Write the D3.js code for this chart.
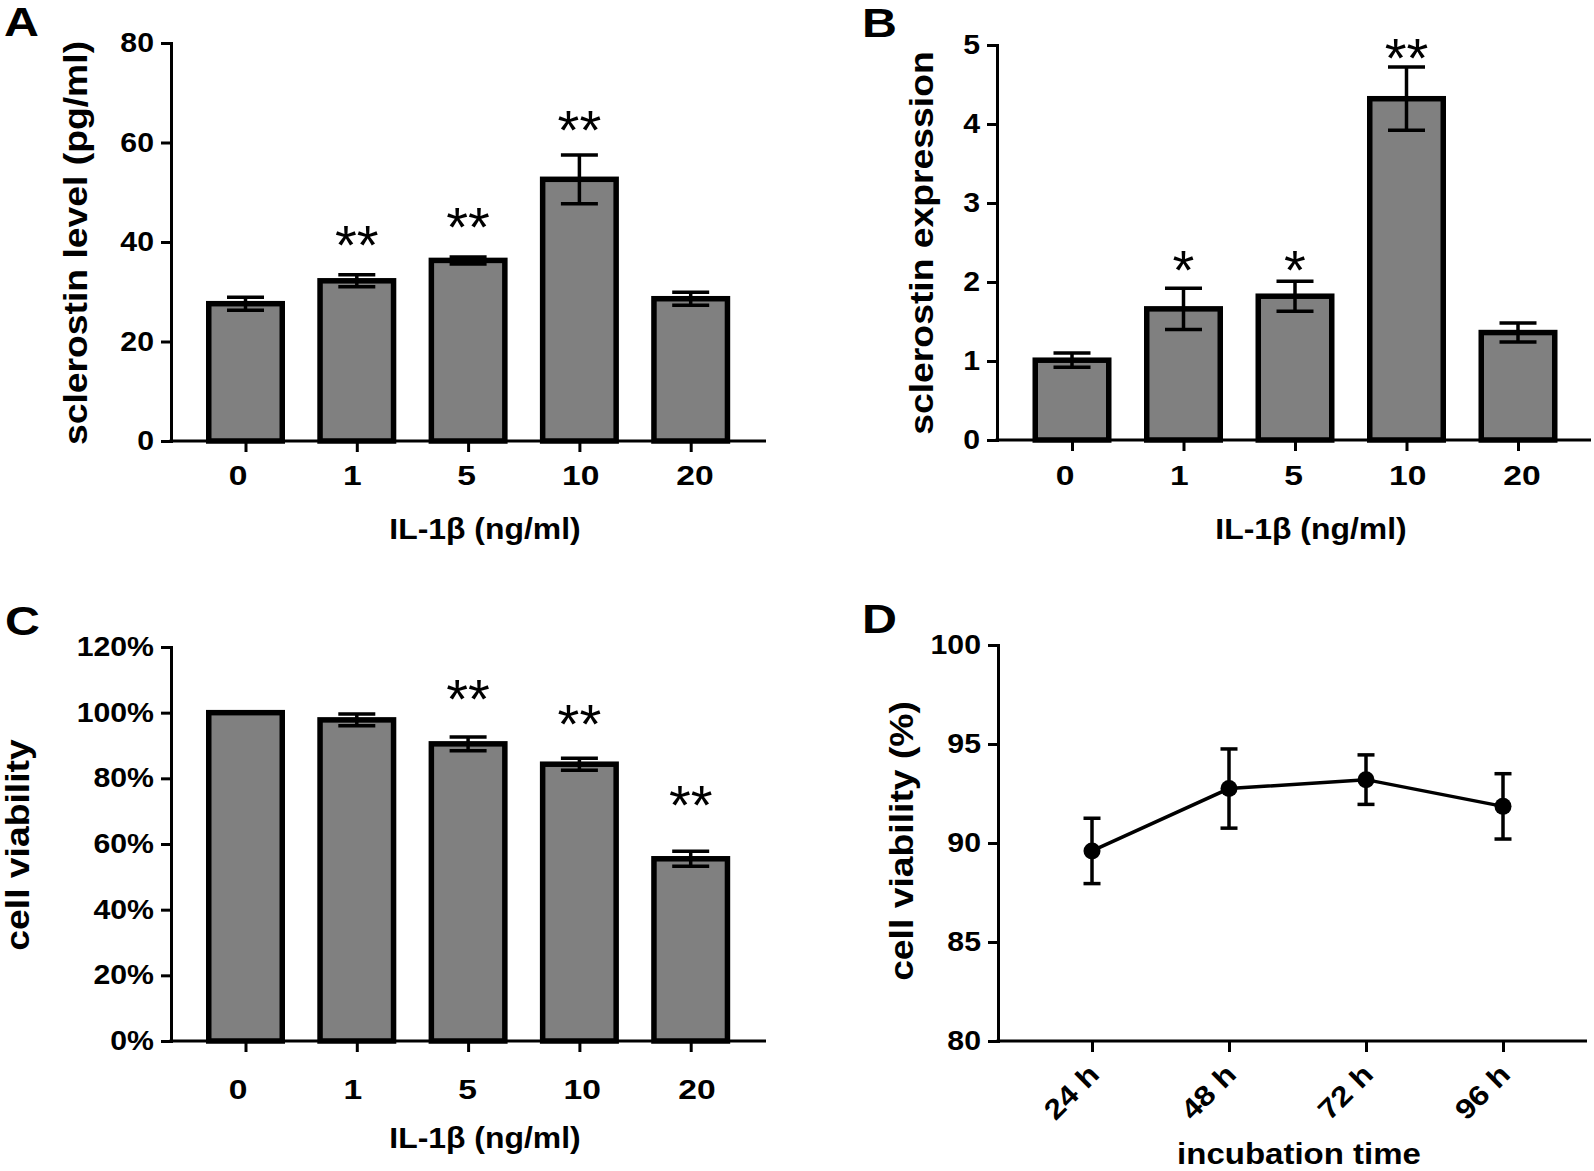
<!DOCTYPE html>
<html><head><meta charset="utf-8">
<script src="https://cdn.jsdelivr.net/npm/d3@7"></script>
<style>
body{margin:0;background:#fff}
svg{display:block}
</style>
</head><body>
<svg id="fig" width="1594" height="1171"></svg>
<script>
// ---------------- data ----------------
const doseCategories = ["0", "1", "5", "10", "20"];

// Panel A: sclerostin level (pg/ml)
const sclerostinLevel    = [27.6, 32.2, 36.3, 52.6, 28.6];
const sclerostinLevelErr = [1.3, 1.2, 0.7, 4.9, 1.3];
const sigA     = ["", "**", "**", "**", ""];
const sigAPosY = [null, 41.0, 44.5, 64.0, null];
const ticksA   = [0, 20, 40, 60, 80];

// Panel B: sclerostin expression
const sclerostinExpr    = [1.01, 1.66, 1.82, 4.32, 1.36];
const sclerostinExprErr = [0.09, 0.26, 0.19, 0.40, 0.12];
const sigB     = ["", "*", "*", "**", ""];
const sigBPosY = [null, 2.25, 2.25, 4.94, null];
const ticksB   = [0, 1, 2, 3, 4, 5];

// Panel C: cell viability (%)
const cellViability    = [100, 97.8, 90.5, 84.3, 55.5];
const cellViabilityErr = [0, 1.8, 2.1, 1.8, 2.3];
const sigC     = ["", "", "**", "**", "**"];
const sigCPosY = [null, null, 106.6, 99.0, 74.3];
const ticksC   = [0, 20, 40, 60, 80, 100, 120];

// Panel D: cell viability over incubation time
const timeCategories   = ["24 h", "48 h", "72 h", "96 h"];
const viabilityTime    = [89.6, 92.75, 93.2, 91.85];
const viabilityTimeErr = [1.65, 2.0, 1.25, 1.65];
const ticksD = [80, 85, 90, 95, 100];

// ---------------- drawing ----------------
const FONT = '"Liberation Sans", Arial, Helvetica, sans-serif';
const svg = d3.select("#fig");

function widen(sel, k) {
  sel.each(function () {
    const w = this.getComputedTextLength();
    if (w > 0) {
      this.setAttribute("textLength", w * k);
      this.setAttribute("lengthAdjust", "spacingAndGlyphs");
    }
  });
}

function addText(g, str, x, y, size, opts = {}) {
  const t = g.append("text")
    .attr("x", x).attr("y", y)
    .attr("font-family", FONT)
    .attr("font-size", size)
    .attr("font-weight", opts.weight || "bold")
    .attr("text-anchor", opts.anchor || "start")
    .attr("fill", "#000")
    .text(str);
  if (opts.transform) t.attr("transform", opts.transform);
  if (opts.widen) widen(t, opts.widen);
  return t;
}

function yAxis(g, y, ticks, fmt, axisX) {
  const ax = g.append("g")
    .attr("transform", `translate(${axisX},0)`)
    .call(d3.axisLeft(y).tickValues(ticks).tickFormat(fmt)
      .tickSize(10).tickSizeOuter(0).tickPadding(7));
  ax.attr("font-family", FONT).attr("font-size", 27);
  ax.select(".domain").attr("stroke", "#000").attr("stroke-width", 3)
    .attr("stroke-linecap", "square");
  ax.selectAll(".tick line").attr("stroke", "#000").attr("stroke-width", 3);
  ax.selectAll(".tick text").attr("font-weight", "bold").attr("fill", "#000");
  widen(ax.selectAll(".tick text"), 1.12);
  return ax;
}

function xAxisLine(g, x, yPos, axisX, xRight) {
  g.append("line")
    .attr("x1", axisX - 1.5).attr("x2", xRight)
    .attr("y1", yPos).attr("y2", yPos)
    .attr("stroke", "#000").attr("stroke-width", 3);
  const ax = g.append("g")
    .attr("transform", `translate(0,${yPos})`)
    .call(d3.axisBottom(x).tickSize(11).tickSizeOuter(0).tickFormat(""));
  ax.select(".domain").remove();
  ax.selectAll(".tick line").attr("stroke", "#000").attr("stroke-width", 3);
}

function barPanel(cfg) {
  const g = svg.append("g");
  const y = d3.scaleLinear().domain([0, cfg.max]).range([cfg.yBottom, cfg.yTop]);
  const x = d3.scalePoint().domain(doseCategories).range(cfg.centers);
  const xl = d3.scalePoint().domain(doseCategories).range(cfg.labelRange);
  const bw = 73.5;

  const rows = doseCategories.map((c, i) => ({
    c, v: cfg.values[i], e: cfg.errs[i], s: cfg.sig[i], sy: cfg.sigY[i]
  }));

  // bars
  g.selectAll("rect.bar").data(rows).join("rect")
    .attr("class", "bar")
    .attr("x", d => x(d.c) - bw / 2)
    .attr("width", bw)
    .attr("y", d => y(d.v))
    .attr("height", d => y(0) - y(d.v))
    .attr("fill", "#808080")
    .attr("stroke", "#000")
    .attr("stroke-width", 5.5);

  // error bars
  const eb = g.selectAll("g.err").data(rows.filter(d => d.e > 0)).join("g").attr("class", "err");
  eb.append("line")
    .attr("x1", d => x(d.c)).attr("x2", d => x(d.c))
    .attr("y1", d => y(d.v + d.e)).attr("y2", d => y(d.v - d.e))
    .attr("stroke", "#000").attr("stroke-width", 3.5);
  [1, -1].forEach(sgn => {
    eb.append("line")
      .attr("x1", d => x(d.c) - 18.5).attr("x2", d => x(d.c) + 18.5)
      .attr("y1", d => y(d.v + sgn * d.e)).attr("y2", d => y(d.v + sgn * d.e))
      .attr("stroke", "#000").attr("stroke-width", 3.5);
  });

  // axes
  xAxisLine(g, x, y(0), cfg.axisX, cfg.xRight);
  yAxis(g, y, cfg.ticks, cfg.fmt, cfg.axisX);

  // category labels
  g.selectAll("text.cat").data(doseCategories).join("text")
    .attr("class", "cat")
    .attr("x", d => xl(d))
    .attr("y", cfg.labelBaseline)
    .attr("text-anchor", "middle")
    .attr("font-family", FONT).attr("font-size", 28).attr("font-weight", "bold")
    .text(d => d)
    .call(s => widen(s, 1.2));

  // significance marks
  const ASZ = 56;
  g.selectAll("text.sig").data(rows.filter(d => d.s)).join("text")
    .attr("class", "sig")
    .attr("x", d => x(d.c))
    .attr("y", d => y(d.sy) + 0.48 * ASZ)
    .attr("text-anchor", "middle")
    .attr("font-family", FONT).attr("font-size", ASZ).attr("font-weight", "normal")
    .text(d => d.s);

  // titles
  addText(g, cfg.xTitle, cfg.xTitlePos[0], cfg.xTitlePos[1], 29, { anchor: "middle", widen: 1.1 });
  addText(g, cfg.yTitle, 0, 0, 33, {
    anchor: "middle", widen: 1.13,
    transform: `translate(${cfg.yTitlePos[0]},${cfg.yTitlePos[1]}) rotate(-90)`
  });
  addText(g, cfg.letter, cfg.letterPos[0], cfg.letterPos[1], 41, { widen: 1.18 });
}

barPanel({
  values: sclerostinLevel, errs: sclerostinLevelErr, sig: sigA, sigY: sigAPosY,
  max: 80, ticks: ticksA, fmt: d3.format("d"),
  axisX: 171, xRight: 766, yTop: 43, yBottom: 441,
  centers: [245.5, 690.7], labelRange: [238, 695], labelBaseline: 485,
  xTitle: "IL-1β (ng/ml)", xTitlePos: [485, 539],
  yTitle: "sclerostin level (pg/ml)", yTitlePos: [87, 243],
  letter: "A", letterPos: [4, 36]
});

barPanel({
  values: sclerostinExpr, errs: sclerostinExprErr, sig: sigB, sigY: sigBPosY,
  max: 5, ticks: ticksB, fmt: d3.format("d"),
  axisX: 997, xRight: 1591, yTop: 45, yBottom: 440,
  centers: [1072, 1518], labelRange: [1065, 1522], labelBaseline: 485,
  xTitle: "IL-1β (ng/ml)", xTitlePos: [1311, 539],
  yTitle: "sclerostin expression", yTitlePos: [933, 243],
  letter: "B", letterPos: [862, 37]
});

barPanel({
  values: cellViability, errs: cellViabilityErr, sig: sigC, sigY: sigCPosY,
  max: 120, ticks: ticksC, fmt: d => d + "%",
  axisX: 171, xRight: 766, yTop: 647, yBottom: 1041,
  centers: [245.5, 690.7], labelRange: [238, 697], labelBaseline: 1099,
  xTitle: "IL-1β (ng/ml)", xTitlePos: [485, 1148],
  yTitle: "cell viability", yTitlePos: [29, 845],
  letter: "C", letterPos: [5, 635]
});

// Panel D: line chart
(function () {
  const g = svg.append("g");
  const axisX = 998, xRight = 1587, yTop = 645, yBottom = 1041;
  const y = d3.scaleLinear().domain([80, 100]).range([yBottom, yTop]);
  const x = d3.scalePoint().domain(timeCategories).range([1092, 1503]);
  const rows = timeCategories.map((c, i) => ({ c, v: viabilityTime[i], e: viabilityTimeErr[i] }));

  xAxisLine(g, x, yBottom, axisX, xRight);
  yAxis(g, y, ticksD, d3.format("d"), axisX);

  // error bars
  const eb = g.selectAll("g.err").data(rows).join("g");
  eb.append("line")
    .attr("x1", d => x(d.c)).attr("x2", d => x(d.c))
    .attr("y1", d => y(d.v + d.e)).attr("y2", d => y(d.v - d.e))
    .attr("stroke", "#000").attr("stroke-width", 3.5);
  [1, -1].forEach(sgn => {
    eb.append("line")
      .attr("x1", d => x(d.c) - 8.5).attr("x2", d => x(d.c) + 8.5)
      .attr("y1", d => y(d.v + sgn * d.e)).attr("y2", d => y(d.v + sgn * d.e))
      .attr("stroke", "#000").attr("stroke-width", 3.5);
  });

  // line
  g.append("path").datum(rows)
    .attr("d", d3.line().x(d => x(d.c)).y(d => y(d.v)))
    .attr("fill", "none").attr("stroke", "#000").attr("stroke-width", 3.5);

  // markers
  g.selectAll("circle").data(rows).join("circle")
    .attr("cx", d => x(d.c)).attr("cy", d => y(d.v)).attr("r", 8.5).attr("fill", "#000");

  // rotated labels
  g.selectAll("text.cat").data(timeCategories).join("text")
    .attr("class", "cat")
    .attr("transform", d => `translate(${x(d) + 9},${yBottom + 35}) rotate(-45)`)
    .attr("text-anchor", "end")
    .attr("font-family", FONT).attr("font-size", 28).attr("font-weight", "bold")
    .text(d => d)
    .call(s => widen(s, 1.15));

  addText(g, "incubation time", 1299, 1164, 30, { anchor: "middle", widen: 1.1 });
  addText(g, "cell viability (%)", 0, 0, 33, {
    anchor: "middle", widen: 1.13, transform: `translate(913,841) rotate(-90)`
  });
  addText(g, "D", 862, 633, 41, { widen: 1.18 });
})();
</script>
</body></html>
